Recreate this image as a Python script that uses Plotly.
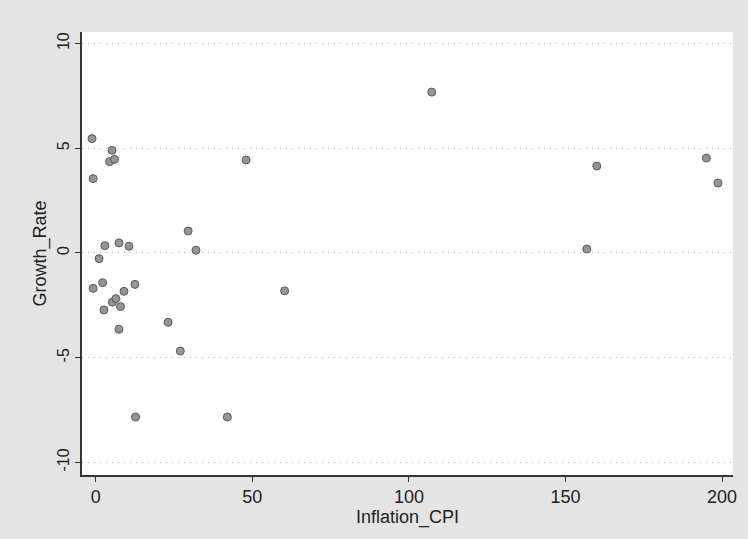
import plotly.graph_objects as go

inflation_cpi = [-1.2, -0.85, -0.85, 1.05, 2.2, 2.9, 2.6, 5.2, 4.4, 6.0, 5.3, 6.4,
                 7.4, 7.9, 7.4, 9.0, 10.6, 12.5, 12.7, 23.1, 27.0, 29.5, 32.0, 42.0,
                 48.0, 60.3, 107.3, 156.8, 160.0, 195.0, 198.7]
growth_rate = [5.46, 3.55, -1.69, -0.27, -1.42, 0.35, -2.72, 4.9, 4.36, 4.47, -2.35, -2.18,
               0.48, -2.56, -3.64, -1.83, 0.32, -1.5, -7.83, -3.31, -4.68, 1.05, 0.13, -7.83,
               4.44, -1.81, 7.68, 0.19, 4.15, 4.53, 3.34]

x_ticks = [0, 50, 100, 150, 200]
y_ticks = [-10, -5, 0, 5, 10]

font_family = "Liberation Sans, Arial, sans-serif"

fig = go.Figure()
fig.add_trace(go.Scatter(
    x=inflation_cpi, y=growth_rate, mode="markers",
    marker=dict(size=8, color="#959595", line=dict(color="#5a5a5a", width=1)),
    showlegend=False,
))

fig.update_layout(
    width=748, height=539,
    margin=dict(l=82, r=11, t=32, b=64),
    paper_bgcolor="#e4e4e4",
    plot_bgcolor="#ffffff",
    font=dict(family=font_family, color="#222222", size=16),
    xaxis=dict(
        range=[-4.4, 203.5], tickvals=x_ticks, ticktext=[str(v) for v in x_ticks],
        showgrid=False, zeroline=False,
        showline=True, linecolor="#333333", linewidth=1.5,
        ticks="outside", ticklen=5, tickcolor="#333333",
        tickfont=dict(size=18),
        title=dict(text="Inflation_CPI", font=dict(size=18), standoff=0),
    ),
    yaxis=dict(
        range=[-10.6, 10.55], tickvals=y_ticks, ticktext=[str(v) for v in y_ticks],
        showgrid=True, gridcolor="#b0b0b0", griddash="1px,5px", gridwidth=1,
        zeroline=False,
        showline=True, linecolor="#333333", linewidth=1.5,
        ticks="outside", ticklen=5, tickcolor="#333333",
        tickangle=-90,
        tickfont=dict(size=16),
        title=dict(text="Growth_Rate", font=dict(size=18), standoff=4),
    ),
)

fig.write_html("out.html", config={"displayModeBar": False},
               post_script="document.body.style.margin='0';")
